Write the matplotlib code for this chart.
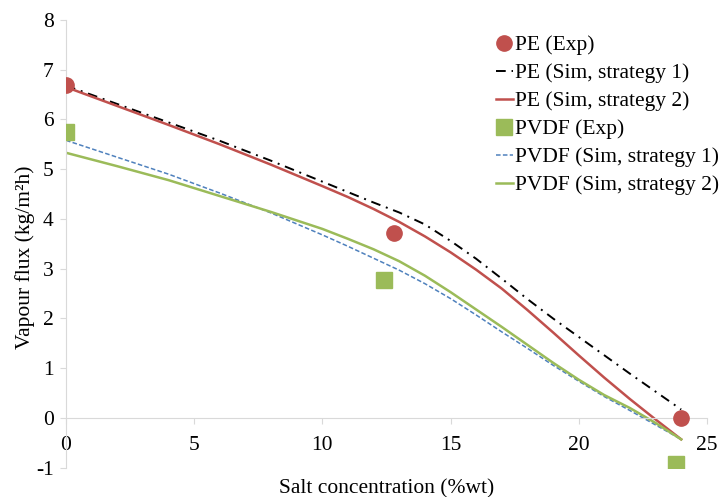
import matplotlib.pyplot as plt

plt.rcParams['font.family'] = ['Liberation Serif', 'DejaVu Serif']
plt.rcParams['axes.unicode_minus'] = False

# experimental points
pe_exp_x = [0, 12.8, 24]
pe_exp_y = [6.7, 3.72, 0.0]
pvdf_exp_x = [0, 12.4, 23.8]
pvdf_exp_y = [5.75, 2.78, -0.93]

# simulated curves
sim_x = [0, 2, 4, 6, 8, 10, 11, 12, 13, 14, 15, 16, 17, 18, 19, 20, 21, 22, 23, 24]
pe_sim1 = [6.68, 6.31, 5.94, 5.57, 5.17, 4.75, 4.54, 4.33, 4.13, 3.89, 3.56, 3.2,
           2.8, 2.39, 2.0, 1.63, 1.26, 0.89, 0.53, 0.17]
pe_sim2 = [6.65, 6.27, 5.89, 5.5, 5.09, 4.66, 4.44, 4.2, 3.94, 3.65, 3.33, 2.98,
           2.6, 2.17, 1.72, 1.26, 0.81, 0.38, -0.03, -0.43]
pvdf_sim1 = [5.58, 5.24, 4.9, 4.52, 4.12, 3.68, 3.45, 3.21, 2.97, 2.7, 2.4, 2.07,
             1.73, 1.4, 1.06, 0.74, 0.43, 0.15, -0.14, -0.43]
pvdf_sim2 = [5.33, 5.06, 4.78, 4.46, 4.14, 3.8, 3.6, 3.39, 3.15, 2.86, 2.53, 2.18,
             1.83, 1.47, 1.11, 0.77, 0.46, 0.2, -0.1, -0.43]

red = '#C0504D'
green = '#9BBB59'
blue = '#4F81BD'
grey = '#D9D9D9'
fs = 15.5

fig = plt.figure(figsize=(7.2, 4.97), dpi=100)
ax = fig.add_axes([0.0917, 0.0589, 0.89, 0.901])

ax.plot(pe_exp_x, pe_exp_y, 'o', color=red, markersize=11, label='PE (Exp)', zorder=5)
ax.plot(sim_x, pe_sim1, color='black', linestyle=(0, (5, 3, 1, 3)), linewidth=1.4,
        label='PE (Sim, strategy 1)')
ax.plot(sim_x, pe_sim2, color=red, linewidth=1.8, label='PE (Sim, strategy 2)')
ax.plot(pvdf_exp_x, pvdf_exp_y, 's', color=green, markersize=11, label='PVDF (Exp)', zorder=5)
ax.plot(sim_x, pvdf_sim1, color=blue, linestyle=(0, (3, 1.5)), linewidth=1.1,
        label='PVDF (Sim, strategy 1)')
ax.plot(sim_x, pvdf_sim2, color=green, linewidth=1.8, label='PVDF (Sim, strategy 2)')

ax.set_xlim(0, 25)
ax.set_ylim(-1, 8)
ax.set_xticks([0, 5, 10, 15, 20, 25])
ax.set_yticks(range(-1, 9))

ax.spines['top'].set_visible(False)
ax.spines['right'].set_visible(False)
ax.spines['bottom'].set_position(('data', 0))
ax.spines['bottom'].set_color(grey)
ax.spines['left'].set_color(grey)
ax.tick_params(axis='x', colors=grey, labelcolor='black', length=4, direction='out',
               labelsize=fs, pad=9)
ax.tick_params(axis='y', colors=grey, labelcolor='black', length=4, direction='out',
               labelsize=fs, pad=5)

ax.set_xlabel('Salt concentration (%wt)', fontsize=fs)
ax.xaxis.set_label_coords(0.5, -0.025)
ax.set_ylabel('Vapour flux (kg/m²h)', fontsize=fs)
ax.yaxis.set_label_coords(-0.048, 0.47)

ax.legend(loc='upper right', bbox_to_anchor=(1.043, 1.0), frameon=False, fontsize=fs,
          handlelength=0.8, handletextpad=0.1, labelspacing=0.37, borderpad=0.2)

fig.savefig('out.png', dpi=100)
